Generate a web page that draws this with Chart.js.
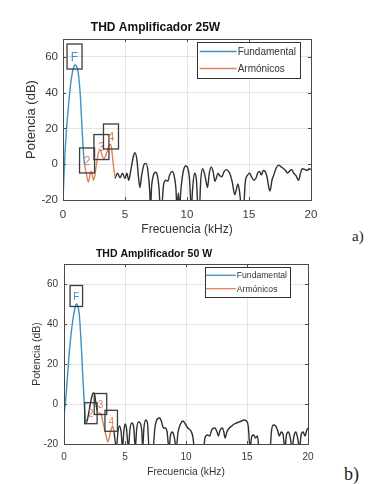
<!DOCTYPE html>
<html>
<head>
<meta charset="utf-8">
<script src="https://cdn.jsdelivr.net/npm/chart.js@4.4.1/dist/chart.umd.min.js"></script>
<style>
  body { margin: 0; background: #fff; width: 385px; height: 484px; overflow: hidden; position: relative; }
  canvas { position: absolute; left: 0; }
  #c1 { top: 0; }
  #c2 { top: 242px; }
  .tag { position: absolute; font-family: 'Liberation Serif', 'DejaVu Serif', serif; color: #222; line-height: 1; }
</style>
</head>
<body>
<canvas id="c1" width="330" height="242"></canvas>
<canvas id="c2" width="330" height="242"></canvas>
<div class="tag" style="left:352px;top:229px;font-size:15px">a)</div>
<div class="tag" style="left:344px;top:465px;font-size:18px">b)</div>
<script>
// axes
const xTicks = [0, 5, 10, 15, 20];
const yTicks = [-20, 0, 20, 40, 60];
const xMin = 0, xMax = 20, yMin = -20, yMax = 70;
const seriesNames = ['Fundamental', 'Armónicos'];

// 25 W
const fund25X = [0.02, 0.15, 0.3, 0.45, 0.6, 0.75, 0.9, 1.0, 1.1, 1.25, 1.4, 1.55, 1.7, 1.76];
const fund25Y = [-17, 5, 21, 33, 44, 51, 55, 55.5, 54.5, 50, 38, 18, 2, -1];
const harm25X = [1.76, 1.9, 2.05, 2.2, 2.3, 2.45, 2.55, 2.7, 2.85, 3.0, 3.15, 3.3, 3.45, 3.6, 3.75, 3.85, 3.95, 4.05, 4.2];
const harm25Y = [-1, -6, -10, -5, -4, -9, -7, 0, 6, 8, 5, 3, 5, 8, 11, 11, 7, 0, -7];
const res25X = [4.2, 4.4, 4.6, 4.8, 5.0, 5.15, 5.3, 5.5, 5.7, 5.8, 5.95, 6.1, 6.2, 6.35, 6.55, 6.7, 6.85, 7.0, 7.05, 7.15, 7.3, 7.45, 7.6, 7.75, 7.85, 7.95, 8.1, 8.3, 8.45, 8.6, 8.8, 8.95, 9.1, 9.2, 9.3, 9.4, 9.5, 9.7, 9.9, 10.05, 10.2, 10.35, 10.45, 10.6, 10.75, 10.9, 11.0, 11.1, 11.25, 11.4, 11.55, 11.65, 11.8, 11.95, 12.1, 12.25, 12.35, 12.5, 12.65, 12.8, 13.0, 13.2, 13.35, 13.5, 13.65, 13.85, 13.95, 14.1, 14.25, 14.4, 14.55, 14.7, 14.9, 15.05, 15.2, 15.4, 15.55, 15.7, 15.85, 16.0, 16.15, 16.3, 16.45, 16.6, 16.7, 16.85, 17.0, 17.2, 17.4, 17.6, 17.8, 17.95, 18.1, 18.25, 18.45, 18.6, 18.8, 19.0, 19.15, 19.3, 19.5, 19.7, 19.85, 20];
const res25Y = [-8, -5, -7.5, -5, -8, -5, -9, -2, 5, 6.5, 3, -8, -13, -6, 0, 0.5, -4, -16, -25, -12, -6, -4.5, -6, -14, -25, -25, -12, -9, -9.5, -6, -4, -6, -13, -25, -16, -25, -15, -4, -1, -2, -8, -25, -14, -5, -8, -25, -25, -10, -2.5, -5, -10, -13, -5, -1.5, -4, -9.5, -8, -5, -6.5, -7, -4, -3, -4, -6, -10, -17, -15, -11, -16, -25, -25, -10, -6, -5, -7, -9, -8, -5, -4, -6, -3.5, -4, -7, -13, -15, -9, -6, -2, -0.5, -1.5, -2.5, -3.5, -5, -4, -3, -5, -6.5, -9, -5, -2.5, -3, -3.5, -2.5, -3];
const tag25Text = ['F', '2', '3', '4'];
const tag25X = [0.93, 1.94, 3.1, 3.87];
const tag25Y = [60.2, 2.1, 9.6, 15.5];

// 50 W
const fund50X = [0.0, 0.15, 0.3, 0.45, 0.6, 0.75, 0.9, 1.0, 1.1, 1.25, 1.4, 1.55, 1.7, 1.8];
const fund50Y = [-6, 3, 15, 27, 36, 43, 48, 50, 49.5, 45, 31, 13, -3, -10];
const harm50X = [2.7, 2.85, 3.0, 3.15, 3.3, 3.45, 3.6, 3.7, 3.85, 4.0, 4.1];
const harm50Y = [-3, -5, -4.5, -8, -12, -16, -19, -17, -13, -11, -14];
const res50X = [1.8, 1.95, 2.1, 2.25, 2.4, 2.5, 2.6, 2.7, 3.4, 4.1, 4.3, 4.42, 4.55, 4.68, 4.8, 4.9, 5.0, 5.12, 5.28, 5.4, 5.55, 5.7, 5.85, 5.95, 6.1, 6.25, 6.38, 6.45, 6.55, 6.7, 6.85, 6.97, 7.3, 7.45, 7.65, 7.85, 8.0, 8.15, 8.3, 8.45, 8.6, 8.75, 8.9, 9.05, 9.2, 9.35, 9.55, 9.75, 9.95, 10.15, 10.35, 10.55, 10.7, 11.45, 11.55, 11.75, 11.95, 12.1, 12.35, 12.55, 12.65, 12.8, 12.98, 13.1, 13.2, 13.35, 13.55, 13.75, 13.95, 14.15, 14.35, 14.55, 14.75, 14.95, 15.1, 15.25, 15.4, 15.55, 15.7, 15.85, 16.0, 16.9, 17.0, 17.15, 17.35, 17.5, 17.65, 17.8, 17.95, 18.1, 18.25, 18.4, 18.55, 18.7, 18.85, 19.0, 19.15, 19.3, 19.45, 19.6, 19.75, 19.9, 20];
const res50Y = [-10, -7, -2, 3, 5.5, 5, 1, -3, null, -14, -22, -14, -11, -14, -22, -14, -10, -12, -22, -13, -9.5, -11, -22, -13, -9, -9.5, -14, -22, -12, -8, -10, -22, -22, -12, -7.5, -7, -9, -12, -12, -14, -22, -15, -14, -17, -22, -14, -10, -8.5, -10, -12, -13, -16, -22, -22, -17, -15.5, -16, -13, -12, -14, -16, -13, -12, -14, -17, -14, -12, -11, -10, -9.5, -9, -8.5, -8, -8.5, -11, -22, -16, -15.5, -17, -16, -22, -22, -14, -10.5, -11, -13, -16, -14, -15, -22, -15, -14, -17, -22, -16, -14, -17, -22, -15, -14, -16, -13, -12];
const tag50Text = ['F', '2', '3', '4'];
const tag50X = [1.01, 2.2, 2.99, 3.87];
const tag50Y = [54, -4.6, 0, -8.4];
const tagSeries = [0, 1, 1, 1];

const blue = 'rgb(62,145,196)';
const orange = 'rgb(222,132,92)';
const dark = 'rgb(48,48,48)';
const sans = "'Liberation Sans', Arial, sans-serif";

Chart.defaults.font.family = sans;
Chart.defaults.color = '#3a3a3a';

function pts(xs, ys) {
  return xs.map((x, i) => ({ x: x, y: ys[i] }));
}

// box around axes + little inward ticks, like matlab
const framePlugin = {
  id: 'frame',
  afterDatasetsDraw(chart, args, o) {
    const ctx = chart.ctx, a = chart.chartArea, xs = chart.scales.x, ys = chart.scales.y;
    ctx.save();
    ctx.strokeStyle = o.color;
    ctx.lineWidth = 1;
    ctx.beginPath();
    xTicks.forEach(v => {
      const p = Math.round(xs.getPixelForValue(v)) + 0.5;
      ctx.moveTo(p, a.bottom); ctx.lineTo(p, a.bottom - o.tick);
      ctx.moveTo(p, a.top); ctx.lineTo(p, a.top + o.tick);
    });
    yTicks.forEach(v => {
      const p = Math.round(ys.getPixelForValue(v)) + 0.5;
      ctx.moveTo(a.left, p); ctx.lineTo(a.left + o.tick, p);
      ctx.moveTo(a.right, p); ctx.lineTo(a.right - o.tick, p);
    });
    ctx.stroke();
    ctx.strokeRect(Math.round(a.left) + 0.5, Math.round(a.top) + 0.5, Math.round(a.right - a.left), Math.round(a.bottom - a.top));
    ctx.restore();
  }
};

// text labels with a box (F, 2, 3, 4)
const tagPlugin = {
  id: 'tags',
  afterDatasetsDraw(chart, args, o) {
    const ctx = chart.ctx, xs = chart.scales.x, ys = chart.scales.y;
    ctx.save();
    ctx.font = o.size + 'px ' + sans;
    ctx.textAlign = 'center';
    ctx.textBaseline = 'middle';
    o.text.forEach((t, i) => {
      const px = xs.getPixelForValue(o.x[i]);
      const py = ys.getPixelForValue(o.y[i]);
      ctx.strokeStyle = '#3c3c3c';
      ctx.lineWidth = 1.3;
      ctx.strokeRect(px - o.w / 2, py - o.h / 2, o.w, o.h);
      ctx.fillStyle = chart.data.datasets[tagSeries[i]].borderColor;
      ctx.fillText(t, px, py + 1);
    });
    ctx.restore();
  }
};

// legend box in the top right corner of the axes
const legendPlugin = {
  id: 'boxLegend',
  afterDraw(chart, args, o) {
    const ctx = chart.ctx, a = chart.chartArea;
    const items = chart.data.datasets.filter(d => d.label);
    ctx.save();
    ctx.font = o.size + 'px ' + sans;
    const tw = Math.max(...items.map(d => ctx.measureText(d.label).width));
    const w = o.padL + o.line + o.gap + tw + o.padR;
    const h = items.length * o.row + 2 * o.padY;
    const right = a.right - o.right, top = a.top + o.top;
    const left = right - w;
    ctx.fillStyle = '#fff';
    ctx.fillRect(left, top, w, h);
    ctx.strokeStyle = '#333';
    ctx.lineWidth = 1;
    ctx.strokeRect(Math.round(left) + 0.5, Math.round(top) + 0.5, Math.round(w), Math.round(h));
    items.forEach((d, i) => {
      const cy = top + o.padY + o.row * (i + 0.5);
      ctx.strokeStyle = d.borderColor;
      ctx.lineWidth = 1.3;
      ctx.beginPath();
      ctx.moveTo(left + o.padL, cy);
      ctx.lineTo(left + o.padL + o.line, cy);
      ctx.stroke();
      ctx.fillStyle = '#333';
      ctx.textBaseline = 'middle';
      ctx.fillText(d.label, left + o.padL + o.line + o.gap, cy + 0.5);
    });
    ctx.restore();
  }
};

function makeChart(id, title, fund, harm, res, tags, lay) {
  return new Chart(document.getElementById(id), {
    type: 'line',
    data: {
      datasets: [
        { label: seriesNames[0], data: fund, borderColor: blue, borderWidth: 1.4 },
        { label: seriesNames[1], data: harm, borderColor: orange, borderWidth: 1.4 },
        { data: res, borderColor: dark, borderWidth: 1.4 }
      ]
    },
    options: {
      responsive: false,
      animation: false,
      parsing: true,
      elements: { point: { radius: 0 }, line: { cubicInterpolationMode: 'monotone' } },
      layout: { padding: { left: 0, right: lay.padRight, top: 0, bottom: 0 } },
      plugins: {
        legend: { display: false },
        tooltip: { enabled: false },
        title: {
          display: true, text: title, color: '#111',
          font: { size: lay.titleSize, weight: 'bold' },
          padding: { top: lay.titleTop, bottom: lay.titleBottom }
        },
        frame: { color: '#4a4a4a', tick: 3 },
        tags: tags,
        boxLegend: lay.legend
      },
      scales: {
        x: {
          type: 'linear', min: xMin, max: xMax,
          afterBuildTicks: s => { s.ticks = xTicks.map(v => ({ value: v })); },
          afterFit: s => { s.height = lay.xHeight; },
          grid: { color: '#e4e4e4', drawTicks: false },
          border: { display: false },
          ticks: { font: { size: lay.tickSize }, padding: lay.xTickPad, maxRotation: 0 },
          title: { display: true, text: 'Frecuencia (kHz)', color: '#333', font: { size: lay.xTitleSize }, padding: { top: 0, bottom: lay.xTitleBottom } }
        },
        y: {
          type: 'linear', min: yMin, max: yMax,
          afterBuildTicks: s => { s.ticks = yTicks.map(v => ({ value: v })); },
          afterFit: s => { s.width = lay.yWidth; },
          grid: { color: '#e4e4e4', drawTicks: false },
          border: { display: false },
          ticks: { font: { size: lay.tickSize }, padding: lay.yTickPad },
          title: { display: true, text: 'Potencia (dB)', color: '#333', font: { size: lay.yTitleSize }, padding: { top: lay.yTitleTop, bottom: 0 } }
        }
      }
    },
    plugins: [framePlugin, tagPlugin, legendPlugin]
  });
}

makeChart('c1', 'THD Amplificador 25W',
  pts(fund25X, fund25Y), pts(harm25X, harm25Y), pts(res25X, res25Y),
  { text: tag25Text, x: tag25X, y: tag25Y, w: 15, h: 25, size: 12 },
  {
    padRight: 19, titleSize: 12, titleTop: 20, titleBottom: 4.6,
    xHeight: 42, tickSize: 11.5, xTickPad: 8, xTitleSize: 12, xTitleBottom: 4.8,
    yWidth: 63, yTickPad: 5, yTitleSize: 13, yTitleTop: 24,
    legend: { size: 10, padL: 3, line: 37, gap: 1, padR: 4, row: 17, padY: 1, right: 11, top: 3 }
  });

makeChart('c2', 'THD Amplificador 50 W',
  pts(fund50X, fund50Y), pts(harm50X, harm50Y), pts(res50X, res50Y),
  { text: tag50Text, x: tag50X, y: tag50Y, w: 12.5, h: 21, size: 10 },
  {
    padRight: 22, titleSize: 10.5, titleTop: 5.7, titleBottom: 3.7,
    xHeight: 40, tickSize: 10, xTickPad: 7, xTitleSize: 10.2, xTitleBottom: 5.9,
    yWidth: 64, yTickPad: 6, yTitleSize: 10.5, yTitleTop: 31,
    legend: { size: 8.6, padL: 1, line: 30, gap: 1, padR: 3, row: 13.4, padY: 1.6, right: 18, top: 3 }
  });
</script>
</body>
</html>
